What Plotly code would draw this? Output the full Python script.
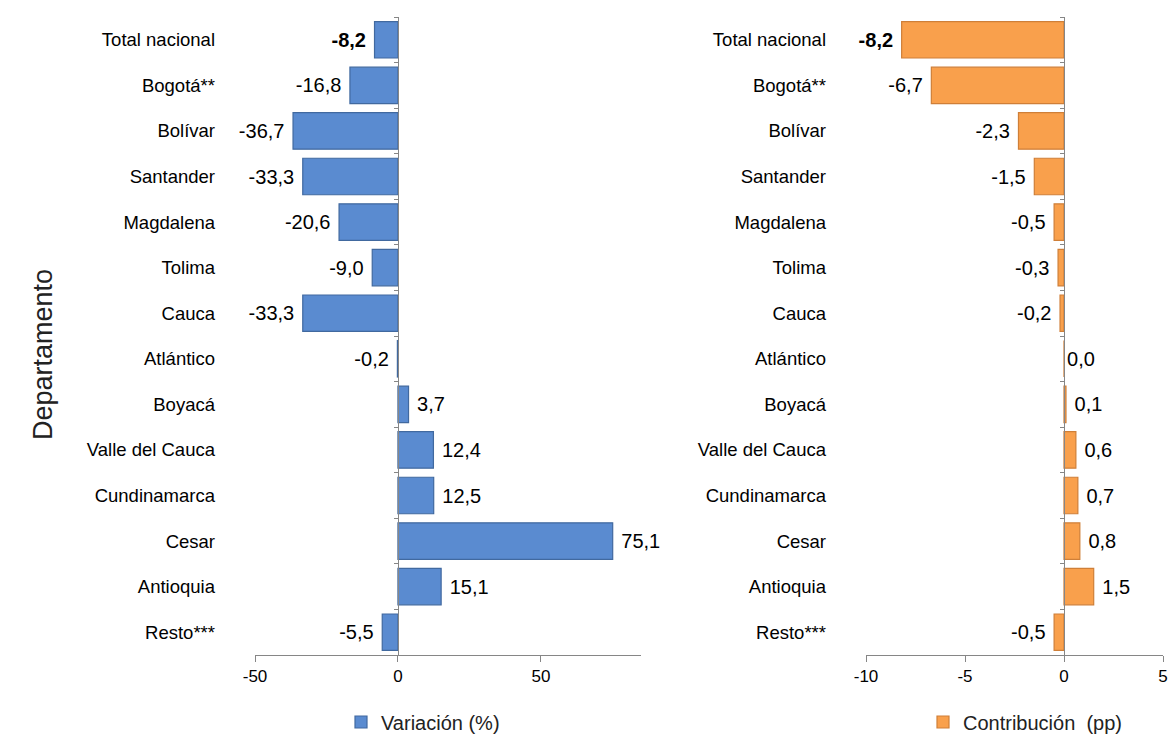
import plotly.graph_objects as go

# Data
departamentos = ["Total nacional", "Bogotá**", "Bolívar", "Santander", "Magdalena",
                 "Tolima", "Cauca", "Atlántico", "Boyacá", "Valle del Cauca",
                 "Cundinamarca", "Cesar", "Antioquia", "Resto***"]
variacion = [-8.2, -16.8, -36.7, -33.3, -20.6, -9.0, -33.3, -0.2, 3.7, 12.4, 12.5, 75.1, 15.1, -5.5]
contribucion = [-8.2, -6.7, -2.3, -1.5, -0.5, -0.3, -0.2, 0.0, 0.1, 0.6, 0.7, 0.8, 1.5, -0.5]
ticks_var = [-50, 0, 50]
ticks_var_text = ["-50", "0", "50"]
ticks_con = [-10, -5, 0, 5]
ticks_con_text = ["-10", "-5", "0", "5"]

FONT = "Liberation Sans, Arial"
AXIS_GREY = "#868686"
W, H = 1169, 743


def px(x):
    return x / W


def py(y):
    return 1 - y / H


# panel geometry (paper fractions, from page pixels)
dom_left = [px(255), px(641)]
dom_right = [px(866), px(1163)]
dom_y = [py(655), py(17)]
rng_left = [-50, 85]
rng_right = [-10, 5]


def zero_pos(dom, rng):
    return dom[0] + (0 - rng[0]) / (rng[1] - rng[0]) * (dom[1] - dom[0])


def label_templates(vals):
    # a little padding between the bar end and its label, first row in bold
    out = []
    for i, v in enumerate(vals):
        t = "%{x:.1f}"
        if i == 0:
            t = "<b>" + t + "</b>"
        out.append(t + "\u00a0" if v <= 0 else "\u00a0" + t)
    return out


fig = go.Figure()
fig.add_trace(go.Bar(
    y=departamentos, x=variacion, orientation="h", name="Variación (%)",
    marker=dict(color="#5A8BD0", line=dict(color="#41699F", width=1.2)),
    texttemplate=label_templates(variacion), textposition="outside", cliponaxis=False,
    textfont=dict(family=FONT, size=20, color="black"),
    xaxis="x", yaxis="y", legend="legend", hoverinfo="y+x",
))
fig.add_trace(go.Bar(
    y=departamentos, x=contribucion, orientation="h", name="Contribución\u00a0 (pp)",
    marker=dict(color="#F9A04C", line=dict(color="#CF7F38", width=1.2)),
    texttemplate=label_templates(contribucion), textposition="outside", cliponaxis=False,
    textfont=dict(family=FONT, size=20, color="black"),
    xaxis="x2", yaxis="y2", legend="legend2", hoverinfo="y+x",
))
# empty traces so the separator axes through zero get drawn
fig.add_trace(go.Scatter(x=[None], y=[None], xaxis="x", yaxis="y3", showlegend=False, hoverinfo="skip"))
fig.add_trace(go.Scatter(x=[None], y=[None], xaxis="x2", yaxis="y4", showlegend=False, hoverinfo="skip"))

xcommon = dict(showline=True, linecolor=AXIS_GREY, linewidth=1, ticks="outside",
               ticklen=6, tickcolor=AXIS_GREY, showgrid=False, zeroline=False,
               automargin=False, tickmode="array",
               tickfont=dict(family=FONT, size=17, color="black"))
ycommon = dict(type="category", range=[13.5, -0.5], showline=False, ticks="",
               showgrid=False, ticklabelstandoff=39, automargin=False,
               tickfont=dict(family=FONT, size=18.5, color="black"), domain=dom_y)
ysep = dict(range=[13.5, -0.5], tickmode="linear", tick0=-0.5, dtick=1,
            ticks="outside", ticklen=4, tickcolor=AXIS_GREY, showline=True,
            linecolor=AXIS_GREY, linewidth=1, showticklabels=False,
            showgrid=False, zeroline=False, anchor="free", automargin=False)

fig.update_layout(
    width=W, height=H,
    margin=dict(l=0, r=0, t=0, b=0, autoexpand=False),
    paper_bgcolor="white", plot_bgcolor="white",
    separators=",.",
    bargap=0.2,
    font=dict(family=FONT, color="black"),
    xaxis=dict(domain=dom_left, range=rng_left, tickvals=ticks_var, ticktext=ticks_var_text,
               anchor="y", **xcommon),
    xaxis2=dict(domain=dom_right, range=rng_right, tickvals=ticks_con, ticktext=ticks_con_text,
                anchor="y2", **xcommon),
    yaxis=dict(anchor="x", **ycommon),
    yaxis2=dict(anchor="x2", **ycommon),
    yaxis3=dict(overlaying="y", position=zero_pos(dom_left, rng_left), **ysep),
    yaxis4=dict(overlaying="y2", position=zero_pos(dom_right, rng_right), **ysep),
    showlegend=True,
    legend=dict(x=px(423), y=py(722), xanchor="center", yanchor="middle",
                orientation="h", itemwidth=30,
                font=dict(family=FONT, size=20, color="#222")),
    legend2=dict(x=px(1025), y=py(722), xanchor="center", yanchor="middle",
                 orientation="h", itemwidth=30,
                 font=dict(family=FONT, size=20, color="#222")),
    annotations=[dict(text="Departamento", textangle=-90, x=px(26), y=py(355),
                      xref="paper", yref="paper", showarrow=False,
                      font=dict(family=FONT, size=27, color="#222"))],
)

# drop the browser's default body margin so the figure sits at the page corner
fig.write_html("out.html", config={"displayModeBar": False},
               post_script="document.body.style.margin = '0';")
